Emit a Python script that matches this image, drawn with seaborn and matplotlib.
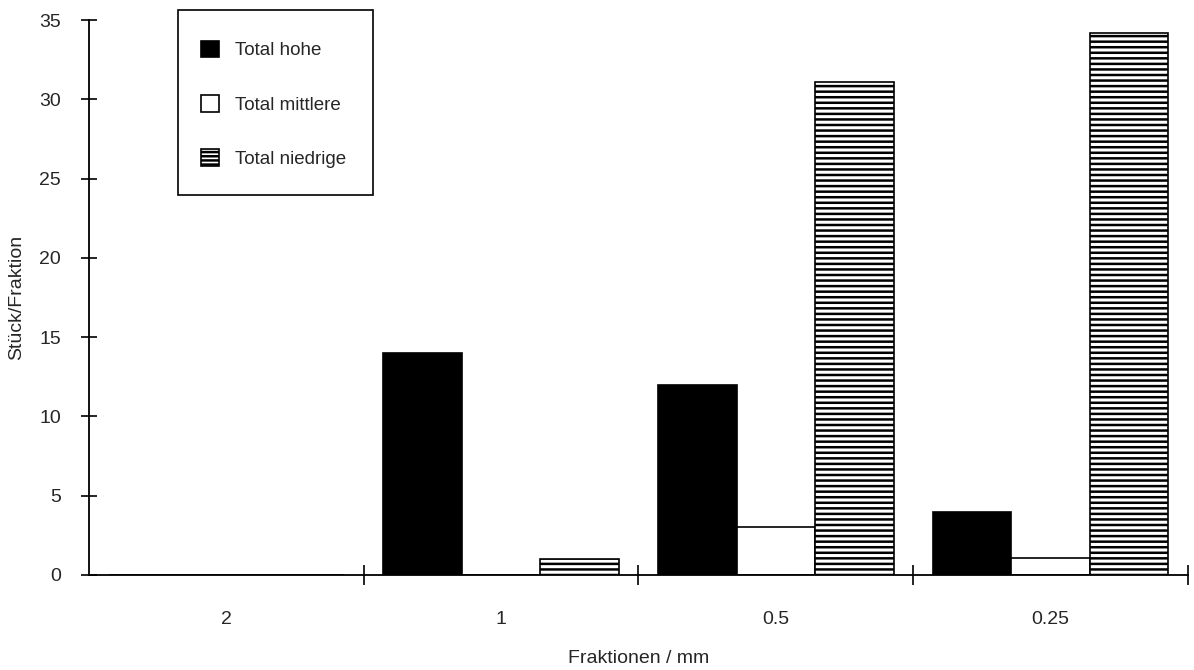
import matplotlib
matplotlib.use("Agg")
import matplotlib.pyplot as plt
import seaborn as sns
import pandas as pd
from matplotlib.ticker import FixedLocator
from matplotlib.patches import Patch, Rectangle

# Size fractions (mm) and counts per fraction
fraktionen = ["2", "1", "0.5", "0.25"]
total_hohe = [0, 14, 12, 4]
total_mittlere = [0, 0, 3, 1.1]
total_niedrige = [0, 1, 31.1, 34.2]
serien = ["Total hohe", "Total mittlere", "Total niedrige"]

df = pd.DataFrame({
    "Fraktion": fraktionen * 3,
    "Anzahl": total_hohe + total_mittlere + total_niedrige,
    "Typ": [serien[0]] * 4 + [serien[1]] * 4 + [serien[2]] * 4,
})

sns.set_theme(style="white")
plt.rcParams["font.family"] = ["Liberation Sans Narrow", "Liberation Sans", "DejaVu Sans"]
plt.rcParams["hatch.linewidth"] = 1.8
plt.rcParams["hatch.color"] = "black"

FS = 14
FS_LEG = 13.5
W, H = 1194, 670

fig = plt.figure(figsize=(W / 100, H / 100), dpi=100)
ax = fig.add_axes([0.0745, 0.1418, 0.9204, 0.8283])

sns.barplot(
    data=df, x="Fraktion", y="Anzahl", hue="Typ",
    order=fraktionen, hue_order=serien,
    palette=["black", "white", "white"],
    edgecolor="black", linewidth=1.2,
    width=0.857, gap=0, errorbar=None, legend=False, ax=ax,
)

# horizontal line fill for the third series
for bar in ax.containers[2]:
    bar.set_hatch("---")

ax.set_xlim(-0.5, 3.5)
ax.set_ylim(0, 35)
ax.set_yticks(range(0, 36, 5))

for side in ("top", "right"):
    ax.spines[side].set_visible(False)
for side in ("left", "bottom"):
    ax.spines[side].set_color("black")
    ax.spines[side].set_linewidth(1.3)

ax.tick_params(axis="y", direction="inout", length=12, width=1.2,
               color="black", labelsize=FS, pad=14, left=True)
ax.tick_params(axis="x", which="major", length=0, labelsize=FS, pad=26)
ax.xaxis.set_minor_locator(FixedLocator([0.5, 1.5, 2.5, 3.5]))
ax.tick_params(axis="x", which="minor", direction="inout", length=14,
               width=1.2, color="black", bottom=True)

ax.set_xlabel("Fraktionen / mm", fontsize=FS)
ax.set_ylabel("Stück/Fraktion", fontsize=FS)
ax.xaxis.set_label_coords(0.5, -0.135)
ax.yaxis.set_label_coords(-0.058, 0.5)

# legend entries, with a plain rectangular frame around them
handles = [
    Patch(facecolor="black", edgecolor="black", linewidth=1.2),
    Patch(facecolor="white", edgecolor="black", linewidth=1.2),
    Patch(facecolor="white", edgecolor="black", linewidth=1.2, hatch="----"),
]
fig.legend(
    handles, serien, loc="upper left",
    bbox_to_anchor=(201 / W, 1 - 40.5 / H), bbox_transform=fig.transFigure,
    borderaxespad=0, borderpad=0, fontsize=FS_LEG, frameon=False,
    handlelength=0.95, handleheight=1.0, labelspacing=1.89,
    handletextpad=0.85,
)
fig.patches.append(Rectangle(
    (178 / W, 1 - 195 / H), 195 / W, 185 / H, transform=fig.transFigure,
    fill=False, edgecolor="black", linewidth=1.2,
))

fig.savefig("out.png", dpi=100, facecolor="white")
